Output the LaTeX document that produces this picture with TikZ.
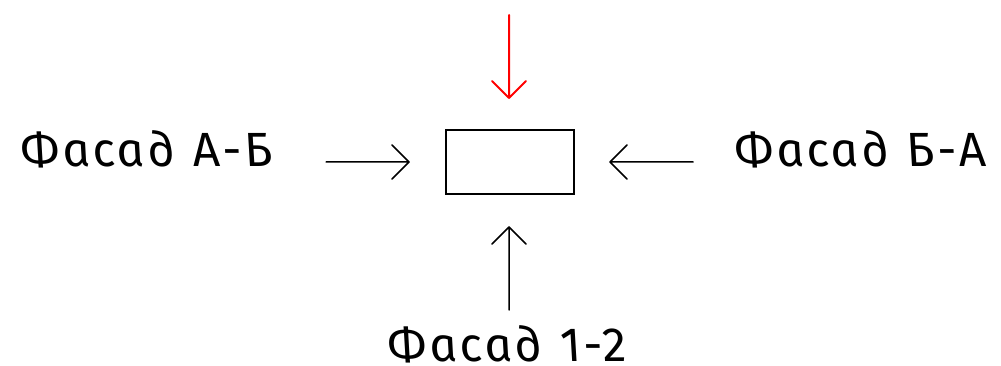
\documentclass[tikz,border=0pt]{standalone}
\usepackage{fontspec}
\newfontfamily\lblfont[FakeSlant=-0.2,LetterSpace=6,Scale=1,WordSpace=1.2]{Fira Sans Italic}
\begin{document}
\begin{tikzpicture}[x=1pt,y=-1pt,
 lab/.style={inner sep=0pt,anchor=base,font=\lblfont\fontsize{48}{48}\selectfont},
 arr/.style={line width=1.5pt,line cap=round,line join=round},
 box/.style={draw=black,line width=1.5pt,minimum width=128pt,minimum height=64pt,inner sep=0pt}]
\useasboundingbox (0,0) rectangle (1001,366);
\node[box] (b) at (510,162) {};
\node[lab] (ab) at (149,167) {Фасад А-Б};
\node[lab] (ba) at (863,167) {Фасад Б-А};
\node[lab] (f12) at (510,361) {Фасад 1-2};
\coordinate (rs) at (509,15); \coordinate (re) at (509,98);
\coordinate (ls) at (326,162); \coordinate (le) at (409,162);
\coordinate (ts) at (693,162); \coordinate (te) at (610,162);
\coordinate (us) at (509,310); \coordinate (ue) at (509,227);
\draw[arr,red,line width=2pt] (rs)--(re) (492,81)--(re)--(526,81);
\draw[arr] (ls)--(le) (392,145)--(le)--(392,179);
\draw[arr] (ts)--(te) (627,145)--(te)--(627,179);
\draw[arr] (us)--(ue) (492,244)--(ue)--(526,244);
\end{tikzpicture}
\end{document}
